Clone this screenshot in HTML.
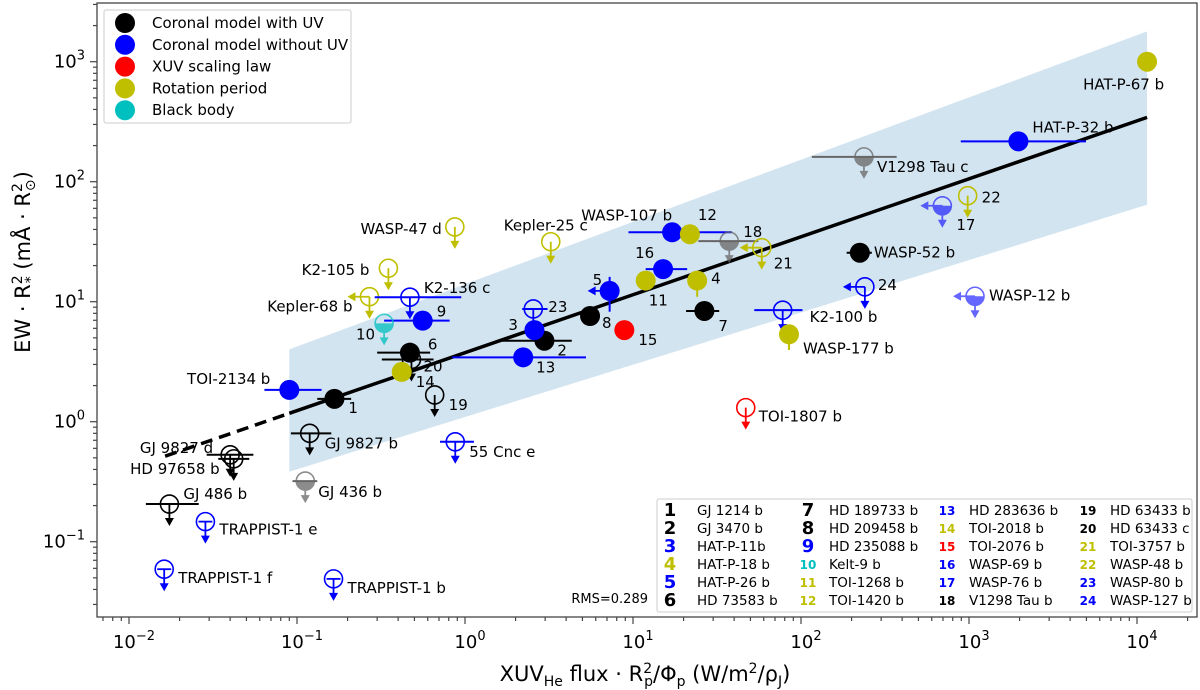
<!DOCTYPE html>
<html><head><meta charset="utf-8"><style>
html,body{margin:0;padding:0;background:#fff}
svg{display:block;font-family:"DejaVu Sans","Liberation Sans",sans-serif}
</style></head><body>
<svg id="chart" width="1200" height="690" viewBox="0 0 1200 690" xmlns="http://www.w3.org/2000/svg">
<defs><clipPath id="plotclip"><rect x="97" y="3" width="1100" height="614"/></clipPath></defs>
<g id="band-layer" clip-path="url(#plotclip)"></g>
<g id="fit-layer" clip-path="url(#plotclip)"></g>
<g id="points-layer"></g>
<g id="labels-layer" font-size="15"></g>
<rect x="97" y="3" width="1100" height="614" fill="none" stroke="#444" stroke-width="1.3"/>
<g id="axis-layer"></g>
<text x="645" y="681" font-size="21" text-anchor="middle">XUV<tspan font-size="14" dy="5">He</tspan><tspan dy="-5"> flux · R</tspan><tspan font-size="14" dy="-8">2</tspan><tspan font-size="14" dx="-8" dy="13">p</tspan><tspan dy="-5">/Φ</tspan><tspan font-size="14" dy="5">p</tspan><tspan dy="-5"> (W/m</tspan><tspan font-size="14" dy="-8">2</tspan><tspan dy="8">/ρ</tspan><tspan font-size="14" dy="5">J</tspan><tspan dy="-5">)</tspan></text>
<text transform="translate(30,262) rotate(-90)" font-size="21" text-anchor="middle">EW · R<tspan font-size="14" dy="-8">2</tspan><tspan font-size="14" dx="-8" dy="13">*</tspan><tspan dy="-5"> (mÅ · R</tspan><tspan font-size="14" dy="-8">2</tspan><tspan font-size="14" dx="-8" dy="13">⊙</tspan><tspan dy="-5">)</tspan></text>
<g>
<rect x="104" y="10" width="247" height="113" fill="#fff" fill-opacity="0.85" stroke="#ccc" rx="2"/>
<g id="method-legend-entries" font-size="15"></g>
</g>
<g>
<rect x="657" y="499" width="535" height="113" fill="#fff" stroke="#ccc" rx="2"/>
<g id="number-legend-entries" font-size="13.5"></g>
</g>
<text x="648" y="603" font-size="13" text-anchor="end">RMS=0.289</text>
</svg>
<script>
// ---- data ----
const planetLabels = ["WASP-47 d","K2-105 b","Kepler-68 b","K2-136 c","9","10","20","6","14","19","TOI-2134 b","1","GJ 9827 d","HD 97658 b","GJ 9827 b","55 Cnc e","GJ 436 b","GJ 486 b","TRAPPIST-1 e","TRAPPIST-1 f","TRAPPIST-1 b","Kepler-25 c","WASP-107 b","12","18","21","16","11","4","5","24","23","2","3","8","15","7","13","K2-100 b","WASP-177 b","TOI-1807 b","WASP-52 b","HAT-P-67 b","HAT-P-32 b","V1298 Tau c","22","17","WASP-12 b"];
const fluxValues = [0.87,0.35,0.27,0.47,0.56,0.33,0.48,0.47,0.42,0.66,0.09,0.167,0.04,0.042,0.119,0.875,0.112,0.0174,0.0285,0.0162,0.165,3.24,17.1,21.8,37.4,58.4,15.1,11.9,24.1,7.26,240,2.55,2.97,2.59,5.55,8.88,26.6,2.22,77.8,84.8,46.9,224,11480,1968,237,982,694,1086];
const ewValues = [42,19,11,10.9,6.95,6.6,3.3,3.76,2.6,1.67,1.84,1.55,0.53,0.49,0.8,0.68,0.32,0.206,0.147,0.059,0.049,31.6,37.9,36.5,32,28.2,18.7,15,15,12.3,13.3,8.7,4.73,5.8,7.6,5.8,8.37,3.44,8.5,5.35,1.31,25.6,1000,217,161,76.4,63,11.1];
const methods = ["y","y","y","b","b","c","k","k","y","k","b","k","k","k","k","b","g","k","b","b","b","y","b","y","g","y","b","y","y","b","b","b","k","b","k","r","k","b","b","y","r","k","y","b","g","y","b","b"];
const kinds = ["o","o","o","o","f","h","o","f","f","o","f","f","o","o","o","o","h","o","o","o","o","o","f","f","h","o","f","f","f","f","o","o","f","f","f","f","f","f","o","f","o","f","f","f","h","o","h","h"];
const xErrLow = [0,0,0,0.29,0.33,0,0.32,0.30,0,0,0.064,0.132,0.029,0.034,0.092,0.71,0.094,0.0126,0,0,0,0,9.4,0,24.5,0,11.9,0,0,0,0,2.19,1.65,0,0,0,20.7,0.84,52.7,0,0,187,0,893,116,0,0,0];
const xErrHigh = [0,0,0,0.95,0.81,0,0.65,0.62,0,0,0.14,0.21,0.055,0.052,0.16,1.13,0.132,0.026,0,0,0,0,38.7,0,55.7,0,21,0,0,0,0,3.1,4.32,0,0,0,32.6,5.25,102,0,0,264,0,4970,371,0,0,0];
const yErrLow = [0,0,0,0,0,0,0,0,2.3,0,0,0,0,0,0,0,0,0,0,0,0,0,0,0,0,0,0,0,11,8.26,0,0,0,0,0,0,0,3.2,0,3.96,0,0,0,0,0,0,0,0];
const yErrHigh = [0,0,0,0,0,0,0,0,0,0,0,0,0,0,0,0,0,0,0,0,0,0,0,0,0,0,0,0,0,16.1,0,0,0,0,0,0,0,0,0,0,0,0,0,0,0,0,0,0];
const leftLimits = [0,0,1,0,0,0,0,0,0,0,0,0,0,0,0,0,0,0,0,0,0,0,0,0,0,1,0,0,0,1,1,0,0,0,0,0,0,0,0,0,0,0,0,0,0,0,1,1];
const crossBars = [0,0,0,0,0,0,0,0,0,0,0,0,0,0,0,0,0,0,1,1,1,0,0,0,0,0,0,0,0,0,0,0,0,0,0,0,0,0,0,0,0,0,0,0,0,0,0,0];
// label offsets (px, style)
const labelDx = [-13,-19,-17,14,14,-9,12,18,14,14,-19,14,-17,-14,15,14,13,14,14,14,14,-5,0,8,14,12,-28,3,14,-17,13,15,13,-26,12,14,14,13,27,14,13,14,-64,14,13,14,14,14];
const labelDy = [7,7,15,-4,-4,16,12,-3,15,15,-6,14,-2,15,15,15,16,-5,13,14,14,-11,-12,-14,-4,21,-11,25,3,-6,3,3,15,0,12,15,20,15,12,19,14,5,28,-9,15,7,24,4];
const labelAnchor = ["end","end","end","start","start","end","start","start","start","start","end","start","end","end","start","start","start","start","start","start","start","middle","end","start","start","start","start","start","start","start","start","start","start","start","start","start","start","start","start","start","start","start","start","start","start","start","start","start"];
// fit
const fitSlope = 0.483;
const fitIntercept = 0.575;
const fitXmin = 0.09;
const fitXmax = 11480;
const fitDashStart = 0.0164;
const bandX = [0.09, 11480];
const bandUpper = [4.01, 1790];
const bandLower = [0.383, 64.3];
// axes
const xTickValues = [-2,-1,0,1,2,3,4];
const yTickValues = [-1,0,1,2,3];
const xTickLabels = ["−2","−1","0","1","2","3","4"];
const yTickLabels = ["−1","0","1","2","3"];
const legendMethods = ["Coronal model with UV","Coronal model without UV","XUV scaling law","Rotation period","Black body"];
const legendColors = ["k","b","r","y","c"];
const numberLegendNames = ["GJ 1214 b","GJ 3470 b","HAT-P-11b","HAT-P-18 b","HAT-P-26 b","HD 73583 b","HD 189733 b","HD 209458 b","HD 235088 b","Kelt-9 b","TOI-1268 b","TOI-1420 b","HD 283636 b","TOI-2018 b","TOI-2076 b","WASP-69 b","WASP-76 b","V1298 Tau b","HD 63433 b","HD 63433 c","TOI-3757 b","WASP-48 b","WASP-80 b","WASP-127 b"];
const numberLegendColors = ["k","k","b","y","b","k","k","k","b","c","y","y","b","y","r","b","b","k","k","k","y","y","b","b"];

const COL = {k:"#000000",b:"#0000ff",r:"#ff0000",y:"#bfbf00",c:"#00bfbf",g:"#666666"};
const NS = "http://www.w3.org/2000/svg";
function X(v){return 465 + 168*Math.log10(v);}
function Y(v){return 421.7 - 120*Math.log10(v);}
function mk(tag, attrs, parent){const e=document.createElementNS(NS,tag);for(const k in attrs)e.setAttribute(k,attrs[k]);parent.appendChild(e);return e;}

// band
const bandG = document.getElementById('band-layer');
const band = mk('polygon',{points:`${X(bandX[0])},${Y(bandUpper[0])} ${X(bandX[1])},${Y(bandUpper[1])} ${X(bandX[1])},${Y(bandLower[1])} ${X(bandX[0])},${Y(bandLower[0])}`,fill:"#d3e4f1"},bandG);



// fit
const fitG = document.getElementById('fit-layer');
function fy(v){return Math.pow(10, fitIntercept + fitSlope*Math.log10(v));}
const fl = mk('line',{x1:X(fitXmin),y1:Y(fy(fitXmin)),x2:X(fitXmax),y2:Y(fy(fitXmax)),stroke:"#000","stroke-width":3.5},fitG);


const fd = mk('line',{x1:X(fitDashStart),y1:Y(fy(fitDashStart)),x2:X(fitXmin),y2:Y(fy(fitXmin)),stroke:"#000","stroke-width":3.5,"stroke-dasharray":"12,7"},fitG);



// points
const pG = document.getElementById('points-layer');
const lG = document.getElementById('labels-layer');
function downArrow(g,cx,cy,c){
  mk('line',{x1:cx,y1:cy,x2:cx,y2:cy+16,stroke:c,"stroke-width":1.8},g);
  mk('polygon',{points:`${cx-4.5},${cy+14} ${cx+4.5},${cy+14} ${cx},${cy+22}`,fill:c},g);
}
function leftArrow(g,cx,cy,c){
  mk('line',{x1:cx,y1:cy,x2:cx-16,y2:cy,stroke:c,"stroke-width":1.8},g);
  mk('polygon',{points:`${cx-14},${cy-4.5} ${cx-14},${cy+4.5} ${cx-22},${cy}`,fill:c},g);
}
for(let i=0;i<planetLabels.length;i++){
  const c = COL[methods[i]];
  const cx = X(fluxValues[i]), cy = Y(ewValues[i]);
  const g = mk('g',{},pG);
  
  
  if(xErrLow[i]>0){
    mk('line',{x1:X(xErrLow[i]),y1:cy,x2:X(xErrHigh[i]),y2:cy,stroke:c,"stroke-width":2},g);
  }
  if(yErrLow[i]>0){
    const yh = yErrHigh[i]>0?yErrHigh[i]:ewValues[i];
    mk('line',{x1:cx,y1:Y(yErrLow[i]),x2:cx,y2:Y(yh),stroke:c,"stroke-width":2},g);
  }
  if(kinds[i]==='f'){
    mk('circle',{cx:cx,cy:cy,r:10,fill:c},g);
    if(leftLimits[i]) leftArrow(g,cx,cy,c);
  } else {
    const op = kinds[i]==='h' ? (methods[i]==='b'?0.6:0.75) : 1;
    const sg = mk('g',{opacity:op},g);
    if(kinds[i]==='h'){
      mk('path',{d:`M${cx-9},${cy} A9,9 0 0 0 ${cx+9},${cy} Z`,fill:c},sg);
    }
    mk('circle',{cx:cx,cy:cy,r:9,fill:"none",stroke:c,"stroke-width":1.6},sg);
    if(crossBars[i]) mk('line',{x1:cx-7,y1:cy,x2:cx+7,y2:cy,stroke:c,"stroke-width":1.8},sg);
    downArrow(sg,cx,cy,c);
    if(leftLimits[i]) leftArrow(sg,cx,cy,c);
  }
  const t = mk('text',{x:cx+labelDx[i],y:cy+labelDy[i],"text-anchor":labelAnchor[i],fill:"#000"},lG);
  t.textContent = planetLabels[i];
  
  
}

// axes ticks
const aG = document.getElementById('axis-layer');
for(let d=-3; d<=4; d++){
  for(let m=1;m<=9;m++){
    const v = m*Math.pow(10,d), px = X(v);
    if(px<97||px>1197) continue;
    mk('line',{x1:px,y1:617,x2:px,y2:617+(m===1?7:4),stroke:"#444","stroke-width":1.2},aG);
  }
}
for(let d=-2; d<=3; d++){
  for(let m=1;m<=9;m++){
    const v = m*Math.pow(10,d), py = Y(v);
    if(py<3||py>617) continue;
    mk('line',{x1:97,y1:py,x2:97-(m===1?7:4),y2:py,stroke:"#444","stroke-width":1.2},aG);
  }
}
xTickValues.forEach((d,i)=>{
  const t = mk('text',{x:X(Math.pow(10,d))+5,y:648,"font-size":18,"text-anchor":"middle"},aG);
  
  
  t.innerHTML = `10<tspan font-size="13" dy="-8">${xTickLabels[i]}</tspan>`;
});
yTickValues.forEach((d,i)=>{
  const t = mk('text',{x:85,y:Y(Math.pow(10,d))+6,"font-size":18,"text-anchor":"end"},aG);
  
  
  t.innerHTML = `10<tspan font-size="13" dy="-8">${yTickLabels[i]}</tspan>`;
});

// method legend
const mlG = document.getElementById('method-legend-entries');
legendMethods.forEach((m,i)=>{
  const y = 23 + i*21.8;
  const c = mk('circle',{cx:125,cy:y,r:10,fill:COL[legendColors[i]]},mlG);
  
  
  const t = mk('text',{x:152,y:y+5},mlG);
  t.textContent = m;
  
  
});

// number legend
const nlG = document.getElementById('number-legend-entries');
const numX = [670,808,947,1088];
const nameX = [697,829,969,1110];
numberLegendNames.forEach((n,i)=>{
  const col = Math.floor(i/6), row = i%6;
  const y = 515 + row*18;
  const num = mk('text',{x:numX[col],y:y+ (i<9?1:0),"text-anchor":"middle","font-weight":"bold","font-size":(i<9?18:12),fill:COL[numberLegendColors[i]]},nlG);
  num.textContent = String(i+1);
  
  
  const t = mk('text',{x:nameX[col],y:y},nlG);
  t.textContent = n;
  
  
});
</script>
</body></html>
